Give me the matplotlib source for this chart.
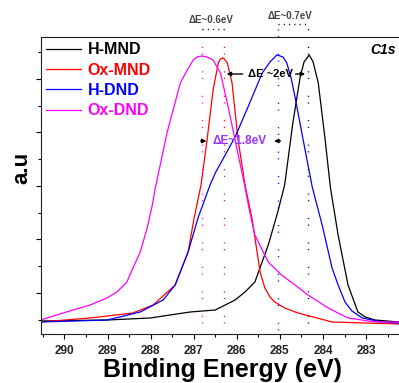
import matplotlib
matplotlib.use('Agg')
import matplotlib.pyplot as plt
from matplotlib.ticker import MultipleLocator, NullFormatter

plt.rcParams['font.family'] = ['Liberation Sans', 'DejaVu Sans']

# C1s spectra: binding energy (eV) and intensity (arb. units)
h_mnd_be = [290.56, 289.01, 288.01, 287.08, 286.50, 286.04, 285.81, 285.58, 285.27,
            285.05, 284.89, 284.70, 284.53, 284.44, 284.32, 284.23, 284.11, 283.95,
            283.83, 283.65, 283.42, 283.19, 283.02, 282.79, 282.23, 281.90]
h_mnd_int = [477, 495, 533, 645, 682, 869, 1019, 1206, 1897,
             2514, 3019, 4178, 5037, 5318, 5449, 5318, 4925, 3860,
             2981, 2084, 1150, 645, 551, 495, 458, 450]

ox_mnd_be = [290.56, 289.40, 288.41, 287.94, 287.43, 287.13, 286.99, 286.83, 286.69,
             286.55, 286.43, 286.38, 286.31, 286.22, 286.11, 285.97, 285.81, 285.65,
             285.46, 285.35, 285.23, 285.12, 284.89, 284.58, 283.79, 282.23, 281.90]
ox_mnd_int = [458, 533, 626, 776, 1150, 1766, 2402, 3019, 3860,
              4794, 5299, 5374, 5393, 5299, 4925, 3860, 3019, 2402,
              1393, 1093, 925, 832, 720, 626, 458, 421, 415]

h_dnd_be = [290.56, 289.01, 288.24, 287.71, 287.43, 287.13, 286.90, 286.62, 286.50,
            286.04, 285.74, 285.41, 285.23, 285.07, 284.93, 284.84, 284.74, 284.65,
            284.46, 284.25, 284.02, 283.79, 283.65, 283.49, 283.33, 283.09, 282.63,
            282.23, 281.90]
h_dnd_int = [458, 495, 645, 869, 1150, 1766, 2402, 3019, 3243,
             3916, 4477, 5112, 5318, 5449, 5411, 5299, 5019, 4664,
             3860, 2981, 2271, 1467, 1150, 832, 664, 533, 458,
             440, 435]

ox_dnd_be = [290.56, 289.80, 289.40, 289.01, 288.78, 288.55, 288.41, 288.24, 288.08,
             287.96, 287.90, 287.62, 287.31, 287.15, 287.01, 286.92, 286.81, 286.69,
             286.55, 286.38, 286.20, 286.04, 285.81, 285.70, 285.58, 285.41, 285.27,
             284.96, 284.65, 284.35, 283.88, 283.42, 282.79, 282.23, 281.90]
ox_dnd_int = [495, 682, 776, 907, 1019, 1206, 1467, 1766, 2215,
              2645, 2925, 3991, 4925, 5168, 5355, 5411, 5430, 5411,
              5355, 5112, 4477, 3860, 2981, 2514, 2084, 1804, 1579,
              1336, 1150, 963, 720, 533, 458, 458, 455]

# peak positions marked with dotted guides
peak_ox_dnd = 286.8
peak_ox_mnd = 286.3
peak_h_dnd = 285.05
peak_h_mnd = 284.35

fig = plt.figure(figsize=(3.99, 3.83), dpi=100)
ax = fig.add_axes([0.102, 0.128, 0.9128, 0.7755])

ax.plot(h_mnd_be, h_mnd_int, color='black', lw=0.9, label='H-MND')
ax.plot(ox_mnd_be, ox_mnd_int, color='#ff0000', lw=0.9, label='Ox-MND')
ax.plot(h_dnd_be, h_dnd_int, color='#0000ff', lw=0.9, label='H-DND')
ax.plot(ox_dnd_be, ox_dnd_int, color='#ff00ff', lw=0.9, label='Ox-DND')

ax.set_xlim(290.55, 282.1)
ax.set_ylim(234, 5785)

# dotted guides through the peak maxima, running up past the frame
dots = (0, (0.8, 4.0, 0.8, 12.0))
ax.plot([peak_ox_dnd, peak_ox_dnd], [439, 5935], color='#ff00ff', lw=1, ls=dots, clip_on=False)
ax.plot([peak_ox_mnd, peak_ox_mnd], [439, 5935], color='#ff0000', lw=1, ls=dots, clip_on=False)
ax.plot([peak_h_dnd, peak_h_dnd], [308, 6028], color='#0000ff', lw=1, ls=dots, clip_on=False)
ax.plot([peak_h_mnd, peak_h_mnd], [439, 6028], color='black', lw=1, ls=dots, clip_on=False)
ax.plot([peak_ox_dnd, peak_ox_mnd], [5935, 5935], color='black', lw=1, ls=(0, (0.8, 3)), clip_on=False)
ax.plot([peak_h_dnd, peak_h_mnd], [6028, 6028], color='black', lw=1, ls=(0, (0.8, 3)), clip_on=False)

ax.text(286.60, 6110, 'ΔE~0.6eV', color='#444444', fontsize=7, fontweight='bold',
        ha='center', va='center', clip_on=False)
ax.text(284.76, 6170, 'ΔE~0.7eV', color='#444444', fontsize=7, fontweight='bold',
        ha='center', va='center', clip_on=False)

# shift between the MND peaks
ax.text(285.23, 5093, 'ΔE ~2eV', color='black', fontsize=8, fontweight='bold',
        ha='center', va='center')
ax.annotate('', xy=(peak_ox_mnd, 5093), xytext=(285.80, 5093),
            arrowprops=dict(arrowstyle='-|>', color='black', lw=1, mutation_scale=6))
ax.annotate('', xy=(peak_h_mnd, 5093), xytext=(284.70, 5093),
            arrowprops=dict(arrowstyle='-|>', color='black', lw=1, mutation_scale=6))

# shift between the DND peaks
ax.text(285.94, 3841, 'ΔE~1.8eV', color='#9933ff', fontsize=8.5, fontweight='bold',
        ha='center', va='center')
ax.annotate('', xy=(286.64, 3841), xytext=(286.90, 3841),
            arrowprops=dict(arrowstyle='-|>', color='black', lw=1, mutation_scale=6))
ax.annotate('', xy=(285.20, 3841), xytext=(284.92, 3841),
            arrowprops=dict(arrowstyle='-|>', color='black', lw=1, mutation_scale=6))

ax.text(282.90, 5542, 'C1s', fontsize=10, fontweight='bold', style='italic',
        ha='left', va='center')

leg = ax.legend(loc='upper left', bbox_to_anchor=(0.0, 1.0), frameon=False,
                prop={'weight': 'bold', 'size': 11.5}, labelcolor='linecolor',
                handlelength=2.2, handletextpad=0.4, labelspacing=0.33,
                borderaxespad=0.0, borderpad=0.34)

ax.xaxis.set_major_locator(MultipleLocator(1))
ax.xaxis.set_minor_locator(MultipleLocator(0.5))
ax.yaxis.set_major_locator(MultipleLocator(1000))
ax.yaxis.set_minor_locator(MultipleLocator(500))
ax.yaxis.set_major_formatter(NullFormatter())
ax.tick_params(axis='both', which='major', direction='out', length=3.6, width=0.8, pad=4)
ax.tick_params(axis='both', which='minor', direction='out', length=2, width=0.8)
for lbl in ax.get_xticklabels():
    lbl.set_fontweight('bold')
    lbl.set_fontsize(8.5)
    lbl.set_color('#222222')

for side in ['left', 'top', 'bottom', 'right']:
    ax.spines[side].set_linewidth(0.8)
    ax.spines[side].set_color('#222222')

ax.set_xlabel('Binding Energy (eV)', fontsize=18, fontweight='bold', labelpad=1)
fig.text(22 / 399, 1 - 168 / 383, 'a.u', rotation=90, fontsize=16, fontweight='bold',
         ha='center', va='center')

fig.savefig('out.png', dpi=100)
